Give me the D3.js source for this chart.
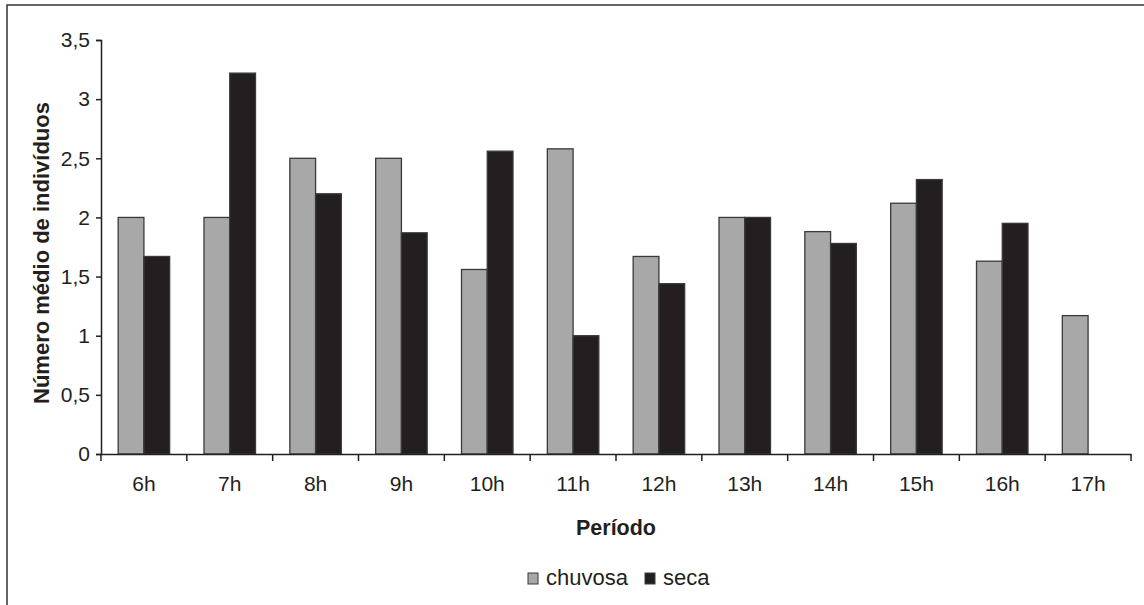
<!DOCTYPE html>
<html>
<head>
<meta charset="utf-8">
<script src="https://cdn.jsdelivr.net/npm/d3@7"></script>
<style>
	body { margin: 0; background: #fff; }
	svg { display: block; font-family: "Liberation Sans", Arial, sans-serif; }
</style>
</head>
<body>
<div id="chart"></div>
<script>
	const hours = ["6h", "7h", "8h", "9h", "10h", "11h", "12h", "13h", "14h", "15h", "16h", "17h"];
	const chuvosa = [2.0, 2.0, 2.5, 2.5, 1.56, 2.58, 1.67, 2.0, 1.88, 2.12, 1.63, 1.17];
	const seca = [1.67, 3.22, 2.2, 1.87, 2.56, 1.0, 1.44, 2.0, 1.78, 2.32, 1.95, 0];
	const seriesNames = ["chuvosa", "seca"];
	const yTicks = [0, 0.5, 1, 1.5, 2, 2.5, 3, 3.5];

	let width = 1144;
	let height = 605;
	let margin = { top: 40, right: 13, bottom: 151, left: 101 };

	let data = hours.map((h, i) => ({ hour: h, chuvosa: chuvosa[i], seca: seca[i] }));

	let color = d3.scaleOrdinal()
		.domain(seriesNames)
		.range(["#a8a8a8", "#231f20"]);

	let x0 = d3.scaleBand()
		.domain(hours)
		.range([margin.left, width - margin.right]);

	let groupWidth = x0.bandwidth() * 0.6;

	let x1 = d3.scaleBand()
		.domain(seriesNames)
		.range([0, groupWidth]);

	let y = d3.scaleLinear()
		.domain([0, 3.5])
		.range([height - margin.bottom, margin.top]);

	let svg = d3.select("#chart")
		.append("svg")
		.attr("width", width)
		.attr("height", height);

	// outer frame, cut off at right and bottom like the original
	svg.append("path")
		.attr("d", "M7," + height + "V5H" + width)
		.attr("fill", "none")
		.attr("stroke", "#333")
		.attr("stroke-width", 1.5);

	// bars
	let groups = svg.selectAll("g.group")
		.data(data)
		.enter()
		.append("g")
		.attr("class", "group")
		.attr("transform", d => "translate(" + (x0(d.hour) + (x0.bandwidth() - groupWidth) / 2) + ",0)");

	groups.selectAll("rect")
		.data(d => seriesNames.map(k => ({ key: k, value: d[k] })).filter(e => e.value > 0))
		.enter()
		.append("rect")
		.attr("x", d => x1(d.key))
		.attr("y", d => y(d.value))
		.attr("width", x1.bandwidth())
		.attr("height", d => y(0) - y(d.value))
		.attr("fill", d => color(d.key))
		.attr("stroke", "#3a3a3a")
		.attr("stroke-width", 1.3);

	// Y axis
	let yAxis = svg.append("g")
		.attr("transform", "translate(" + margin.left + ",0)")
		.call(d3.axisLeft(y).tickValues(yTicks).tickSize(5).tickPadding(6)
			.tickFormat(d => String(d).replace(".", ",")));

	// X axis
	let xAxis = svg.append("g")
		.attr("transform", "translate(0," + (height - margin.bottom) + ")")
		.call(d3.axisBottom(x0).tickSize(0).tickPadding(22));

	// x ticks sit between the categories
	xAxis.selectAll(".sep")
		.data(hours.concat(["end"]))
		.enter()
		.append("line")
		.attr("class", "sep")
		.attr("x1", (d, i) => i < hours.length ? x0(d) : x0.range()[1])
		.attr("x2", (d, i) => i < hours.length ? x0(d) : x0.range()[1])
		.attr("y1", 0)
		.attr("y2", 7)
		.attr("stroke", "#231f20")
		.attr("stroke-width", 1.5);

	[xAxis, yAxis].forEach(a => {
		a.select(".domain").attr("stroke", "#231f20").attr("stroke-width", 1.5);
		a.selectAll(".tick line").attr("stroke", "#231f20").attr("stroke-width", 1.5);
		a.selectAll("text")
			.attr("fill", "#231f20")
			.style("font-size", "21px")
			.style("font-family", "'Liberation Sans', Arial, sans-serif");
	});

	// X-axis label
	svg.append("text")
		.attr("x", (margin.left + width - margin.right) / 2)
		.attr("y", 535)
		.attr("text-anchor", "middle")
		.attr("fill", "#231f20")
		.style("font-size", "21.5px")
		.style("font-weight", "bold")
		.text("Período");

	// Y-axis label
	svg.append("text")
		.attr("transform", "translate(49," + ((margin.top + height - margin.bottom) / 2 + 6) + ") rotate(-90)")
		.attr("text-anchor", "middle")
		.attr("fill", "#231f20")
		.style("font-size", "22px")
		.style("font-weight", "bold")
		.text("Número médio de indivíduos");

	// Legend
	let legendX = [528, 645];
	let legend = svg.selectAll("g.legend")
		.data(seriesNames)
		.enter()
		.append("g")
		.attr("class", "legend")
		.attr("transform", (d, i) => "translate(" + legendX[i] + ",573)");

	legend.append("rect")
		.attr("width", 10)
		.attr("height", 11)
		.attr("fill", d => color(d))
		.attr("stroke", "#3a3a3a")
		.attr("stroke-width", 1);

	legend.append("text")
		.attr("x", 18)
		.attr("y", 11.5)
		.attr("fill", "#231f20")
		.style("font-size", "22px")
		.text(d => d);
</script>
</body>
</html>
